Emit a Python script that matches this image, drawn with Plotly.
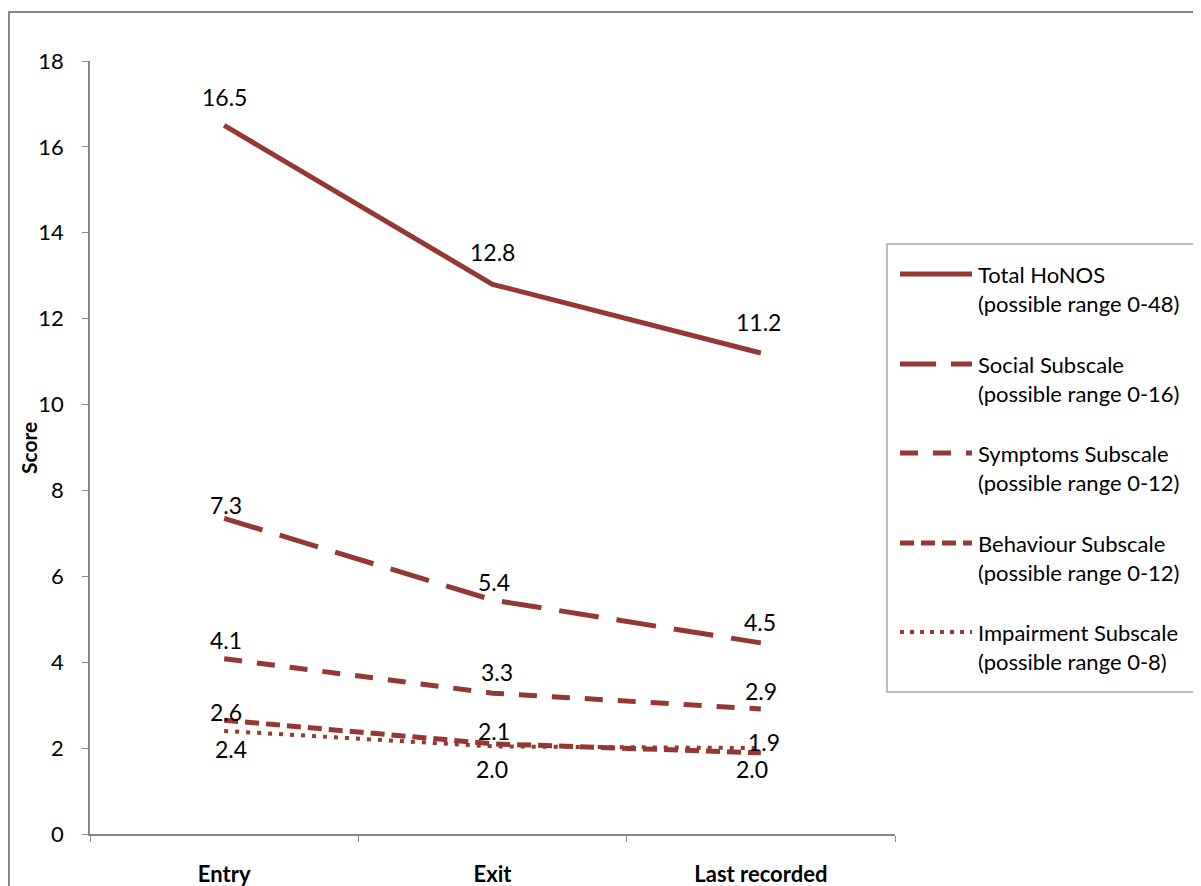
import plotly.graph_objects as go

categories = ["Entry", "Exit", "Last recorded"]
total_honos = [16.5, 12.8, 11.2]
social = [7.35, 5.45, 4.45]
symptoms = [4.08, 3.28, 2.91]
behaviour = [2.65, 2.1, 1.89]
impairment = [2.4, 2.04, 2.0]

series_names = [
    "Total HoNOS<br>(possible range 0-48)",
    "Social Subscale<br>(possible range 0-16)",
    "Symptoms Subscale<br>(possible range 0-12)",
    "Behaviour Subscale<br>(possible range 0-12)",
    "Impairment Subscale<br>(possible range 0-8)",
]
series_values = [total_honos, social, symptoms, behaviour, impairment]
label_texts = [
    ["16.5", "12.8", "11.2"],
    ["7.3", "5.4", "4.5"],
    ["4.1", "3.3", "2.9"],
    ["2.6", "2.1", "1.9"],
    ["2.4", "2.0", "2.0"],
]

color = "#953735"
dashes = ["solid", "40px,18px", "18px,15px", "14px,7px", "4px,7px"]
legend_dashes = ["solid", "36px,15px", "18px,15px", "14px,7px", "4px,6px"]
widths = [5, 5, 5, 5, 4]
label_yshift = [[28.5, 32, 31], [13, 18, 21], [19, 21, 18.5], [8, 13, 11], [-18, -23, -20.5]]
label_xshift = [[0, 0, -2], [2, 1, -1], [2, 4, 0], [2, 1, 3], [7, -1, -9]]

# figure is offset 8px by page body margin
W, H = 1193, 878
ML, MR, MT, MB = 82, 306, 53, 52
plot_w = W - ML - MR
plot_h = H - MT - MB
OFF = 8


def px2x(px):
    return (px - OFF - ML) / plot_w


def py2y(py):
    return (OFF + MT + plot_h - py) / plot_h


fig = go.Figure()
for name, vals, dash, w in zip(series_names, series_values, dashes, widths):
    fig.add_trace(go.Scatter(
        x=categories, y=vals, name=name, mode="lines",
        line=dict(color=color, width=w, dash=dash),
        hoverinfo="skip", showlegend=False,
    ))

annotations = []
for vals, texts, ys, xs in zip(series_values, label_texts, label_yshift, label_xshift):
    for c, v, t, dy, dx in zip(categories, vals, texts, ys, xs):
        annotations.append(dict(
            x=c, y=v, text=t, showarrow=False, xref="x", yref="y",
            yshift=dy, xshift=dx, yanchor="middle", xanchor="center",
            font=dict(family="Lato", size=23, color="#000000"),
        ))

annotations.append(dict(
    x=px2x(28), y=py2y(448), xref="paper", yref="paper", text="<b>Score</b>",
    textangle=-90, showarrow=False, xanchor="center", yanchor="middle",
    font=dict(family="Lato", size=21, color="#000000"),
))

shapes = [dict(
    type="rect", xref="paper", yref="paper",
    x0=px2x(9), x1=px2x(1260), y0=py2y(960), y1=py2y(12),
    line=dict(color="#868686", width=2), fillcolor="rgba(0,0,0,0)",
    layer="below",
)]

# legend box
shapes.append(dict(
    type="rect", xref="paper", yref="paper",
    x0=px2x(887), x1=px2x(1194), y0=py2y(692), y1=py2y(244),
    line=dict(color="#a6a6a6", width=1.5), fillcolor="white",
))
legend_rows = [274, 364, 453, 543, 632]
for name, ld, w, row in zip(series_names, legend_dashes, widths, legend_rows):
    shapes.append(dict(
        type="line", xref="paper", yref="paper",
        x0=px2x(900), x1=px2x(972), y0=py2y(row), y1=py2y(row),
        line=dict(color=color, width=w, dash=ld),
    ))
    annotations.append(dict(
        x=px2x(976), y=py2y(row + 14.5), xref="paper", yref="paper",
        text=name, showarrow=False, xanchor="left", yanchor="middle", align="left",
        font=dict(family="Lato", size=22, color="#000000"),
    ))

fig.update_layout(
    width=W, height=H,
    margin=dict(l=ML, r=MR, t=MT, b=MB, autoexpand=False),
    paper_bgcolor="white", plot_bgcolor="white",
    showlegend=False,
    annotations=annotations,
    shapes=shapes,
)

fig.update_xaxes(
    type="category", range=[-0.5, 2.5], automargin=False,
    showline=True, linecolor="#868686", linewidth=1.5,
    ticks="outside", ticklen=6, tickcolor="#868686", tickson="boundaries",
    showgrid=False, zeroline=False,
    tickfont=dict(family="Lato", size=22, color="#000000", weight="bold"),
    ticklabelstandoff=20,
)
fig.update_yaxes(
    range=[0, 18], dtick=2, tick0=0, automargin=False,
    showline=True, linecolor="#868686", linewidth=1.5,
    ticks="outside", ticklen=6, tickcolor="#868686",
    showgrid=False, zeroline=False,
    tickfont=dict(family="Lato", size=22, color="#000000"),
    ticklabelstandoff=14,
)

fig.write_html("out.html")
